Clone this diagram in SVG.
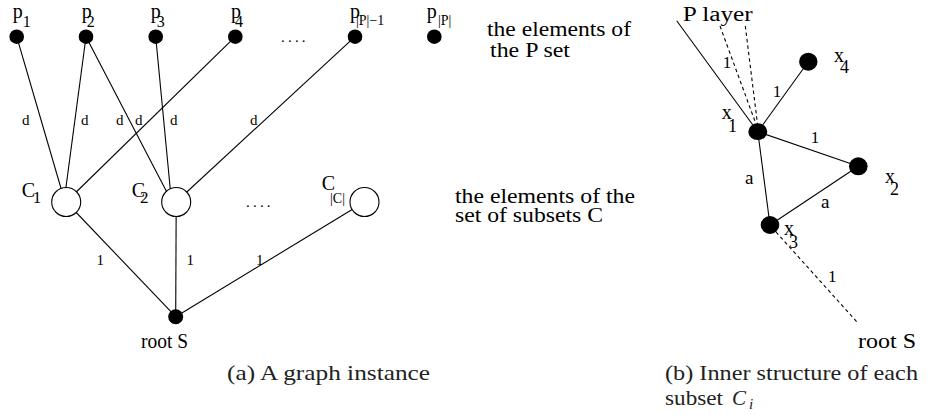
<svg xmlns="http://www.w3.org/2000/svg" width="930" height="415" viewBox="0 0 930 415" font-family="'Liberation Serif', 'Times New Roman', serif">
<style>
  text { font-family: "Liberation Serif", "Times New Roman", serif; fill: #000; }
  .lbl { font-size: 20px; }
  .sub { font-size: 16px; }
  .sm { font-size: 14px; }
  .w { font-size: 15px; }
  .big { font-size: 22px; }
  .cap { font-size: 21px; fill: #222; }
  .e { stroke: #000; stroke-width: 1.1; fill: none; }
  .dash { stroke: #000; stroke-width: 1.1; fill: none; stroke-dasharray: 3.5 3; }
  .pn { fill: #000; }
  .cn { fill: #fff; stroke: #000; stroke-width: 1.1; }
</style>
<rect width="930" height="415" fill="#fff"/>

<!-- connectors -->
<g id="connectors">
  <line class="e" x1="16.7" y1="36.7" x2="65" y2="202"/>
  <line class="e" x1="86" y1="36.7" x2="64" y2="202"/>
  <line class="e" x1="86" y1="36.7" x2="172" y2="202"/>
  <line class="e" x1="155.7" y1="36.7" x2="171.5" y2="202"/>
  <line class="e" x1="235.3" y1="36.7" x2="66" y2="202"/>
  <line class="e" x1="355" y1="36.7" x2="176" y2="202"/>
  <line class="e" x1="66.2" y1="202" x2="175.7" y2="316.7"/>
  <line class="e" x1="176.2" y1="202" x2="175.7" y2="316.7"/>
  <line class="e" x1="364.5" y1="202" x2="175.7" y2="316.7"/>
  <line class="e" x1="676.7" y1="20.7" x2="757.8" y2="131.7"/>
  <line class="dash" x1="720" y1="26" x2="756" y2="124"/>
  <line class="dash" x1="745.3" y1="26" x2="757.5" y2="124"/>
  <line class="e" x1="757.8" y1="131.7" x2="808.3" y2="61.7"/>
  <line class="e" x1="757.8" y1="131.7" x2="858.3" y2="166.3"/>
  <line class="e" x1="757.8" y1="131.7" x2="770" y2="225"/>
  <line class="e" x1="858.3" y1="166.3" x2="770" y2="225"/>
  <line class="dash" x1="776" y1="232" x2="856.7" y2="321.7"/>
</g>

<!-- edge labels -->
<g id="edge-labels">
  <text class="w" x="22" y="125">d</text>
  <text class="w" x="81" y="125">d</text>
  <text class="w" x="116" y="125">d</text>
  <text class="w" x="135" y="125">d</text>
  <text class="w" x="170" y="125">d</text>
  <text class="w" x="250" y="125">d</text>
  <text class="w" x="96.5" y="265">1</text>
  <text class="w" x="186.5" y="265">1</text>
  <text class="w" x="256" y="265">1</text>
  <text class="sub" x="722.7" y="67.7" style="font-size:17px">1</text>
  <text class="sub" x="772.7" y="96.7" style="font-size:17px">1</text>
  <text class="sub" x="810.7" y="142.7" style="font-size:17px">1</text>
  <text class="lbl" x="745" y="184" style="font-size:19px">a</text>
  <text class="lbl" x="821" y="208.3" style="font-size:19px">a</text>
  <text class="sub" x="828" y="282" style="font-size:17px">1</text>
</g>

<!-- P set nodes -->
<g id="p1"><circle class="pn" cx="16.7" cy="36.7" r="7.3"/><text class="lbl" x="12.7" y="18.3">p</text><text class="sub" x="22.7" y="26.7">1</text></g>
<g id="p2"><circle class="pn" cx="86" cy="36.7" r="7.3"/><text class="lbl" x="81.7" y="18.3">p</text><text class="sub" x="86.7" y="26.7">2</text></g>
<g id="p3"><circle class="pn" cx="155.7" cy="36.7" r="7.3"/><text class="lbl" x="150.7" y="18.3">p</text><text class="sub" x="156.7" y="26.7">3</text></g>
<g id="p4"><circle class="pn" cx="235.3" cy="36.7" r="7.3"/><text class="lbl" x="231" y="18.3">p</text><text class="sub" x="235" y="26.7">4</text></g>
<g id="pdots"><text class="w" x="281" y="42" letter-spacing="3.2">....</text></g>
<g id="pP1"><circle class="pn" cx="355" cy="36.7" r="7.3"/><text class="lbl" x="350" y="18.3">p</text><text class="sm" x="356" y="25">|P|−1</text></g>
<g id="pP"><circle class="pn" cx="434.3" cy="36.7" r="7.3"/><text class="lbl" x="426.7" y="18.3">p</text><text class="sm" x="438" y="25">|P|</text></g>

<!-- C nodes -->
<g id="C1"><circle class="cn" cx="66.2" cy="202" r="14.5"/><text class="lbl" x="21.7" y="196.7">C</text><text class="sub" x="32.7" y="203.3" style="font-size:17px">1</text></g>
<g id="C2"><circle class="cn" cx="176.2" cy="202" r="14.5"/><text class="lbl" x="131.7" y="196.7">C</text><text class="sub" x="140" y="203.3" style="font-size:17px">2</text></g>
<g id="cdots"><text class="w" x="246" y="207" letter-spacing="3.2">....</text></g>
<g id="CC"><circle class="cn" cx="364.5" cy="202" r="14.5"/><text class="lbl" x="321.7" y="190">C</text><text class="sm" x="330" y="203">|C|</text></g>

<!-- root -->
<g id="root"><circle class="pn" cx="175.7" cy="316.7" r="7.5"/><text class="lbl" x="141" y="348.3" textLength="47" lengthAdjust="spacingAndGlyphs">root S</text></g>

<!-- annotations -->
<g id="note-p">
  <text class="big" x="487" y="36" textLength="144" lengthAdjust="spacingAndGlyphs">the elements of</text>
  <text class="big" x="490" y="57.3" textLength="80" lengthAdjust="spacingAndGlyphs">the P set</text>
</g>
<g id="note-c">
  <text class="big" x="455" y="203.3" textLength="180" lengthAdjust="spacingAndGlyphs">the elements of the</text>
  <text class="big" x="455" y="222.3" textLength="148" lengthAdjust="spacingAndGlyphs">set of subsets C</text>
</g>

<!-- right panel nodes -->
<g id="player"><text class="lbl" x="682.7" y="20.5" textLength="70" lengthAdjust="spacingAndGlyphs">P layer</text></g>
<g id="x1"><ellipse class="pn" cx="757.8" cy="131.7" rx="9.5" ry="8.4"/><text class="lbl" x="721.7" y="119">x</text><text class="sub" x="728" y="131.7" style="font-size:18px">1</text></g>
<g id="x4"><ellipse class="pn" cx="808.3" cy="61.7" rx="9.2" ry="9"/><text class="lbl" x="834" y="61.7">x</text><text class="sub" x="840" y="72.7" style="font-size:18px">4</text></g>
<g id="x2"><ellipse class="pn" cx="858.3" cy="166.3" rx="9.3" ry="9"/><text class="lbl" x="885" y="183.3">x</text><text class="sub" x="890" y="195" style="font-size:18px">2</text></g>
<g id="x3"><ellipse class="pn" cx="770" cy="225" rx="9.3" ry="9"/><text class="lbl" x="784" y="235">x</text><text class="sub" x="789" y="248.3" style="font-size:18px">3</text></g>
<g id="rootS-b"><text class="big" x="858" y="348.3" textLength="58" lengthAdjust="spacingAndGlyphs">root S</text></g>

<!-- captions -->
<g id="captions">
  <text class="cap" x="227" y="380" textLength="203" lengthAdjust="spacingAndGlyphs">(a)  A graph instance</text>
  <text class="cap" x="665" y="380" textLength="253" lengthAdjust="spacingAndGlyphs">(b)  Inner structure of each</text>
  <text class="cap" x="665" y="405" textLength="58" lengthAdjust="spacingAndGlyphs">subset</text>
  <text class="cap" x="732" y="405" font-style="italic">C</text>
  <text class="cap" x="749" y="408.5" font-style="italic" style="font-size:15px">i</text>
</g>
</svg>
